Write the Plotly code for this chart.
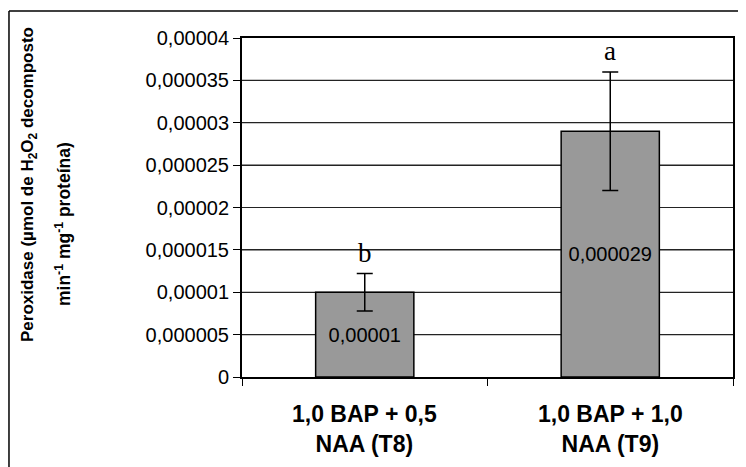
import plotly.graph_objects as go

categories = ["1,0 BAP + 0,5<br>NAA (T8)", "1,0 BAP + 1,0<br>NAA (T9)"]
values = [0.00001, 0.000029]
errors = [0.0000022, 0.000007]
value_labels = ["0,00001", "0,000029"]
letters = ["b", "a"]
tick_vals = [0, 0.000005, 0.00001, 0.000015, 0.00002, 0.000025, 0.00003, 0.000035, 0.00004]
tick_text = ["0", "0,000005", "0,00001", "0,000015", "0,00002", "0,000025", "0,00003", "0,000035", "0,00004"]

OFF = 8  # default page body margin
W, H = 746 - OFF, 467 - OFF
L, R, T, B = 242 - OFF, 13, 38 - OFF, 90
pw, ph = W - L - R, H - T - B

fig = go.Figure()
fig.add_trace(go.Bar(
    x=categories, y=values,
    marker=dict(color="#999999", line=dict(color="black", width=1.5)),
    error_y=dict(type="data", array=errors, visible=True, color="black", thickness=1.5, width=8),
    text=value_labels, textposition="inside", insidetextanchor="middle",
    constraintext="none",
    textfont=dict(family="Arial, Liberation Sans", size=20, color="black"),
    width=0.4,
))

for c, v, e, l in zip(categories, values, errors, letters):
    fig.add_annotation(x=c, y=v + e, text=l, showarrow=False, yanchor="middle", yshift=21,
                       font=dict(family="Liberation Serif, Times New Roman", size=27, color="black"))

for c in categories:
    fig.add_annotation(x=c, y=0, yref="paper", text="<b>" + c + "</b>", showarrow=False,
                       yanchor="top", yshift=-22,
                       font=dict(family="Arial, Liberation Sans", size=23, color="black"))

fig.add_annotation(xref="paper", yref="paper", x=(29 - OFF - L) / pw, y=(H + OFF - B - 185) / ph,
                   text="<b>Peroxidase (µmol de H<sub>2</sub>O<sub>2</sub> decomposto</b>",
                   textangle=-90, showarrow=False, xanchor="center", yanchor="middle",
                   font=dict(family="Arial, Liberation Sans", size=17, color="black"))
fig.add_annotation(xref="paper", yref="paper", x=(63 - OFF - L) / pw, y=(H + OFF - B - 224) / ph,
                   text="<b>min<sup>-1</sup> mg<sup>-1</sup> proteína)</b>",
                   textangle=-90, showarrow=False, xanchor="center", yanchor="middle",
                   font=dict(family="Arial, Liberation Sans", size=17.5, color="black"))

# gridlines drawn as shapes behind the bars, at the tick values
for tv in tick_vals[1:-1]:
    fig.add_shape(type="line", xref="x domain", yref="y", x0=0, x1=1, y0=tv, y1=tv,
                  line=dict(color="rgb(35,35,35)", width=1.2), layer="below")

fx0 = (8 - OFF - L) / pw + 0.002
fy1 = (H + OFF - B - 11) / ph
fig.add_shape(type="line", xref="paper", yref="paper", x0=fx0, x1=fx0, y0=-0.4, y1=fy1,
              line=dict(color="black", width=1.5))
fig.add_shape(type="line", xref="paper", yref="paper", x0=fx0, x1=1.1, y0=fy1, y1=fy1,
              line=dict(color="black", width=1.5))

fig.update_layout(
    width=W, height=H,
    margin=dict(l=L, r=R, t=T, b=B, autoexpand=False),
    paper_bgcolor="white", plot_bgcolor="rgba(0,0,0,0)",
    showlegend=False,
    bargap=0.6,
    font=dict(family="Arial, Liberation Sans", color="black"),
)
fig.update_xaxes(
    showline=True, linecolor="black", linewidth=2, mirror=True,
    ticks="outside", tickson="boundaries", ticklen=7, tickcolor="black", tickwidth=1,
    showticklabels=False,
    showgrid=False,
)
fig.update_yaxes(
    range=[0, 0.00004], tickmode="array", tickvals=tick_vals, ticktext=tick_text,
    showline=True, linecolor="black", linewidth=2, mirror=True,
    ticks="outside", ticklen=7, tickcolor="black", tickwidth=1,
    tickfont=dict(family="Arial, Liberation Sans", size=20, color="black"),
    showgrid=True, gridcolor="rgb(35,35,35)", gridwidth=1,
    zeroline=False,
)

fig.write_html("out.html")
